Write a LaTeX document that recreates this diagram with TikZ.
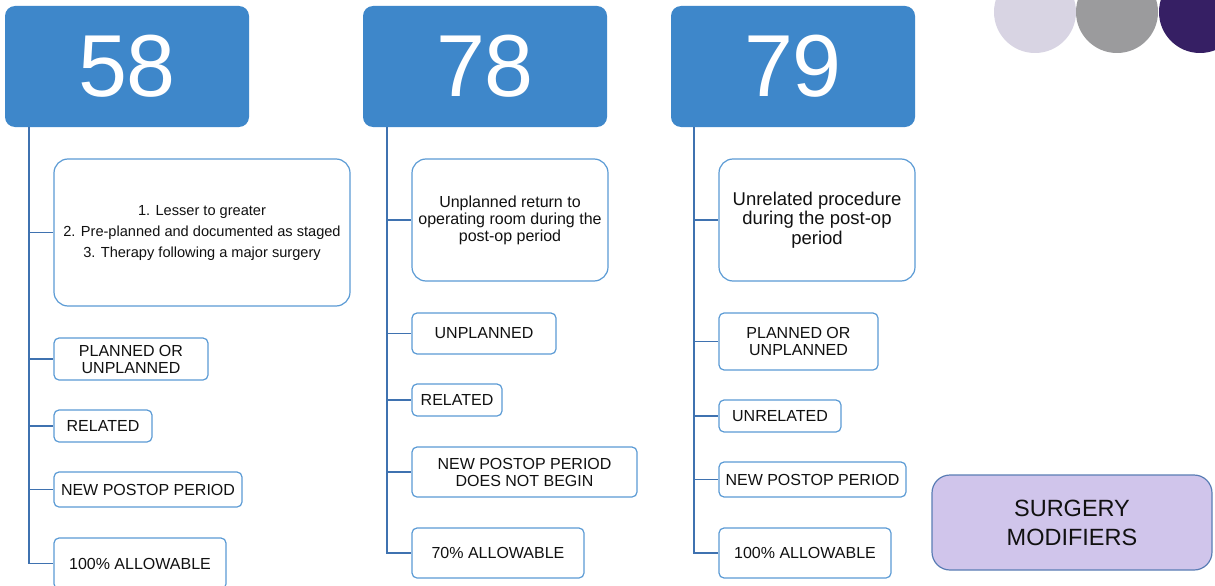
\documentclass[tikz,border=0pt]{standalone}
\usepackage{fontspec}
\setmainfont{Liberation Sans}
\definecolor{hdr}{HTML}{3E87CA}
\definecolor{bord}{HTML}{5B9BD5}
\definecolor{conn}{HTML}{3F72B0}
\definecolor{smfill}{HTML}{D0C5EB}
\definecolor{smbord}{HTML}{5A7DB5}
\definecolor{circA}{HTML}{D8D4E3}
\definecolor{circB}{HTML}{9B9B9D}
\definecolor{circC}{HTML}{361F64}
\definecolor{txt}{HTML}{111111}
\begin{document}
\begin{tikzpicture}[x=1pt,y=-1pt,
  hdrbox/.style={draw=none,fill=hdr,rounded corners=10pt,inner sep=0pt,
    minimum width=244pt,minimum height=121pt,text=white,font=\fontsize{88}{88}\selectfont},
  bigbox/.style={draw=bord,line width=1.2pt,fill=white,rounded corners=14pt,inner sep=0pt,
    align=center,text=txt},
  smallbox/.style={draw=bord,line width=1.2pt,fill=white,rounded corners=5pt,inner sep=0pt,
    align=center,text=txt,font=\fontsize{16}{17}\selectfont},
  connline/.style={draw=conn,line width=1.6pt},
  smbox/.style={draw=smbord,line width=1.2pt,fill=smfill,rounded corners=18pt,inner sep=0pt,
    align=center,text=txt,font=\fontsize{23.5}{29}\selectfont}
]
\clip (0,0) rectangle (1215,586);
\fill[white] (0,0) rectangle (1215,586);

% circles
\fill[circA] (1035,12) circle (41);
\fill[circB] (1117,12) circle (41);
\fill[circC] (1200,12) circle (41);

% headers
\node[hdrbox] (h1) at (127,66.5) {58};
\node[hdrbox] (h2) at (485,66.5) {78};
\node[hdrbox] (h3) at (793,66.5) {79};

% column 1
\node[bigbox,minimum width=296pt,minimum height=147pt,font=\fontsize{14.6}{21}\selectfont]
  (c1a) at (202,232.5) {1. Lesser to greater\\2. Pre-planned and documented as staged\\3. Therapy following a major surgery};
\node[smallbox,minimum width=154pt,minimum height=42pt] (c1b) at (131,359) {PLANNED OR\\UNPLANNED};
\node[smallbox,minimum width=98pt,minimum height=32pt] (c1c) at (103,426) {RELATED};
\node[smallbox,minimum width=188pt,minimum height=35pt] (c1d) at (148,489.5) {NEW POSTOP PERIOD};
\node[smallbox,minimum width=172pt,minimum height=51pt] (c1e) at (140,563.5) {100\% ALLOWABLE};

% column 2
\node[bigbox,minimum width=196pt,minimum height=122pt,font=\fontsize{16}{17}\selectfont]
  (c2a) at (510,220) {Unplanned return to\\operating room during the\\post-op period};
\node[smallbox,minimum width=144pt,minimum height=41pt] (c2b) at (484,333.5) {UNPLANNED};
\node[smallbox,minimum width=90pt,minimum height=32pt] (c2c) at (457,400) {RELATED};
\node[smallbox,minimum width=225pt,minimum height=50pt] (c2d) at (524.5,472) {NEW POSTOP PERIOD\\DOES NOT BEGIN};
\node[smallbox,minimum width=172pt,minimum height=50pt] (c2e) at (498,553) {70\% ALLOWABLE};

% column 3
\node[bigbox,minimum width=196pt,minimum height=122pt,font=\fontsize{18.5}{19.5}\selectfont]
  (c3a) at (817,220) {Unrelated procedure\\during the post-op\\period};
\node[smallbox,minimum width=159pt,minimum height=57pt] (c3b) at (798.5,341.5) {PLANNED OR\\UNPLANNED};
\node[smallbox,minimum width=122pt,minimum height=32pt] (c3c) at (780,416) {UNRELATED};
\node[smallbox,minimum width=187pt,minimum height=35pt] (c3d) at (812.5,479.5) {NEW POSTOP PERIOD};
\node[smallbox,minimum width=172pt,minimum height=50pt] (c3e) at (805,553) {100\% ALLOWABLE};

% surgery modifiers
\node[smbox,minimum width=280pt,minimum height=95pt] (sm) at (1072,522.5) {SURGERY\\MODIFIERS};

% connectors
\coordinate (v1) at (29,127);
\coordinate (v2) at (387,127);
\coordinate (v3) at (694,127);
\draw[connline] (v1) |- (c1e.west);
\foreach \n in {c1a,c1b,c1c,c1d} \draw[connline] (\n.west -| v1) -- (\n.west);
\draw[connline] (v2) |- (c2e.west);
\foreach \n in {c2a,c2b,c2c,c2d} \draw[connline] (\n.west -| v2) -- (\n.west);
\draw[connline] (v3) |- (c3e.west);
\foreach \n in {c3a,c3b,c3c,c3d} \draw[connline] (\n.west -| v3) -- (\n.west);
\end{tikzpicture}
\end{document}
